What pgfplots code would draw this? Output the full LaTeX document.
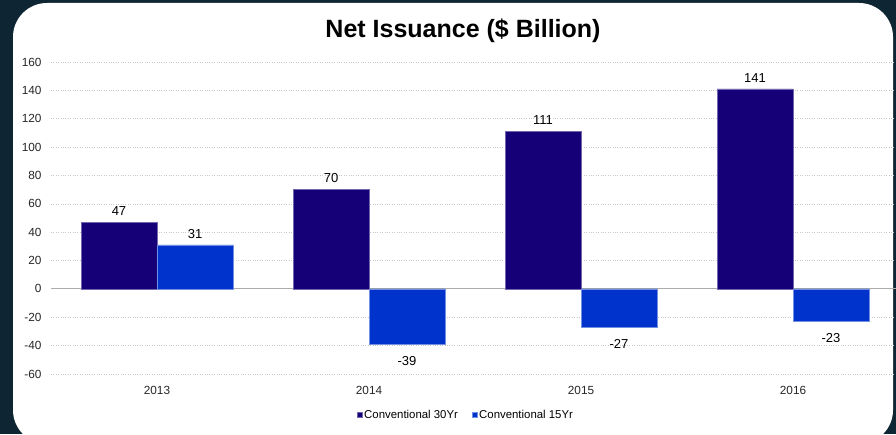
\documentclass[border=0pt]{standalone}
\usepackage{pgfplots}
\pgfplotsset{compat=1.18}
\usepackage{fontspec}
\setmainfont{Liberation Sans}

\definecolor{thirty}{RGB}{22,0,120}
\definecolor{fifteen}{RGB}{0,51,204}
\definecolor{gridgray}{RGB}{200,200,200}
\definecolor{bgdark}{RGB}{14,38,52}

\begin{document}
\begin{tikzpicture}[x=1pt,y=1pt]
\useasboundingbox (0,0) rectangle (896,434);
% backdrop and card
\fill[bgdark] (0,0) rectangle (896,434);
\fill[white, rounded corners=34pt] (13,-10) rectangle (893,431);

\node[font=\fontsize{25}{30}\selectfont\bfseries] at (463,403) {Net Issuance (\$ Billion)};

\begin{axis}[
    at={(51pt,60pt)}, anchor=south west,
    scale only axis,
    width=848pt, height=312pt,
    ybar=0pt, bar width=76pt,
    xmin=-0.5, xmax=3.5,
    ymin=-60, ymax=160,
    xtick=data,
    xticklabels={2013,2014,2015,2016},
    ytick={-60,-40,-20,20,40,60,80,100,120,140,160},
    extra y ticks={0},
    extra y tick style={grid style={draw=gray!65, solid, line width=1pt}},
    ymajorgrids,
    grid style={draw=gridgray, dotted, line width=0.6pt},
    axis line style={draw=none},
    major tick length=0pt,
    /pgf/number format/assume math mode=true,
    tick label style={font=\fontsize{11.8}{14}\selectfont, text=black!85},
    yticklabel style={xshift=-6pt},
    xticklabel style={yshift=-9pt},
    nodes near coords,
    nodes near coords style={font=\fontsize{13}{15}\selectfont, inner sep=9pt, yshift=-2.5pt, text=black},
    legend columns=2,
    legend style={at={(0.4894,-0.131)}, anchor=center, draw=none, fill=none,
        font=\fontsize{11.4}{13}\selectfont,
        /tikz/every even column/.append style={column sep=12pt}},
    legend image code/.code={\fill[#1] (0pt,-2.2pt) rectangle (4.6pt,2.4pt);},
]
\addplot[fill=thirty, draw=thirty!60!white, line width=0.6pt]
    coordinates {(0,47) (1,70) (2,111) (3,141)};
\addplot[fill=fifteen, draw=fifteen!55!white, line width=0.6pt]
    coordinates {(0,31) (1,-39) (2,-27) (3,-23)};
\legend{Conventional 30Yr, Conventional 15Yr}
\end{axis}
\end{tikzpicture}
\end{document}
